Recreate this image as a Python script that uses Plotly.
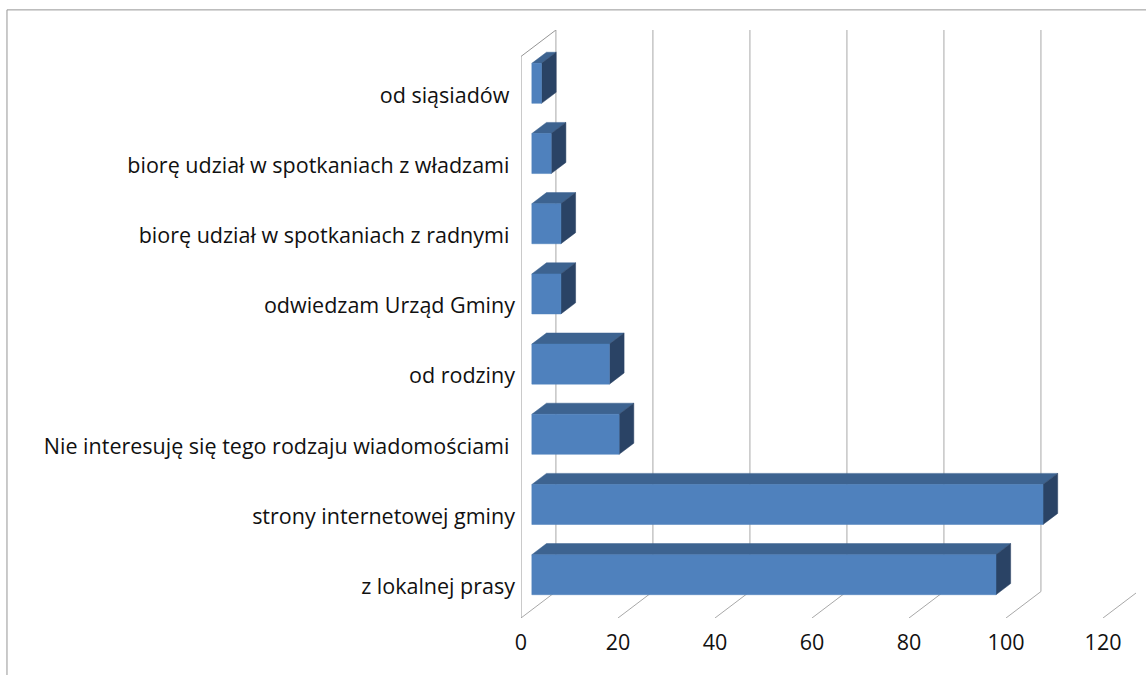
import plotly.graph_objects as go

categories = [
    "z lokalnej prasy",
    "strony internetowej gminy",
    "Nie interesuję się tego rodzaju wiadomościami\u00a0",
    "od rodziny",
    "odwiedzam Urząd Gminy",
    "biorę udział w spotkaniach z radnymi\u00a0",
    "biorę udział w spotkaniach z władzami\u00a0",
    "od siąsiadów\u00a0",
]
values = [95.7, 105.4, 18, 16, 6, 6, 4, 2]
x_ticks = [0, 20, 40, 60, 80, 100, 120]

# oblique projection, in data units
DX = 7.2
DY = 0.377
D0 = 0.31
D1 = 0.73
HALF = 0.285
X_MAX = 126.8
Y_LOW = -0.5
Y_HIGH = len(categories) - 0.5
LABEL_SHIFT = 0.05


def proj(v, c, d):
    return v + DX * d, c + DY * d


def poly(points):
    xs, ys = zip(*points)
    return list(xs) + [xs[0], None], list(ys) + [ys[0], None]


front_x, front_y, top_x, top_y, side_x, side_y = [], [], [], [], [], []
for i, v in enumerate(values):
    lo, hi = i - HALF, i + HALF
    a = poly([proj(0, lo, D0), proj(v, lo, D0), proj(v, hi, D0), proj(0, hi, D0)])
    b = poly([proj(0, hi, D0), proj(v, hi, D0), proj(v, hi, D1), proj(0, hi, D1)])
    c = poly([proj(v, lo, D0), proj(v, hi, D0), proj(v, hi, D1), proj(v, lo, D1)])
    front_x += a[0]; front_y += a[1]
    top_x += b[0]; top_y += b[1]
    side_x += c[0]; side_y += c[1]

back_x, back_y, floor_x, floor_y = [], [], [], []
for t in x_ticks:
    p = proj(t, Y_LOW, 1)
    q = proj(t, Y_HIGH, 1)
    back_x += [p[0], q[0], None]
    back_y += [p[1], q[1], None]
    r = proj(t, Y_LOW, 0)
    floor_x += [r[0], p[0], None]
    floor_y += [r[1], p[1], None]

wall = [proj(0, Y_LOW, 0), proj(0, Y_HIGH, 0), proj(0, Y_HIGH, 1)]
wall_x = [w[0] for w in wall]
wall_y = [w[1] for w in wall]

fig = go.Figure()


def line(x, y, color, width):
    fig.add_trace(go.Scatter(x=x, y=y, mode="lines", hoverinfo="skip",
                             line=dict(color=color, width=width),
                             cliponaxis=False))


def face(x, y, color):
    fig.add_trace(go.Scatter(x=x, y=y, mode="lines", fill="toself", fillcolor=color,
                             hoverinfo="skip", line=dict(color=color, width=0.5),
                             cliponaxis=False))


line(back_x, back_y, "#a8a8a8", 1)
line(floor_x, floor_y, "#a8a8a8", 1)
line(wall_x, wall_y, "#959595", 1)
face(top_x, top_y, "#3D6390")
face(side_x, side_y, "#2A4365")
face(front_x, front_y, "#4F81BD")

fig.update_layout(
    width=1146, height=675, autosize=False,
    margin=dict(l=521, r=10, t=30, b=57),
    paper_bgcolor="white", plot_bgcolor="white", showlegend=False,
    font=dict(family="Open Sans, Lato, sans-serif", color="#111111"),
    xaxis=dict(range=[0, X_MAX], tickvals=x_ticks, showgrid=False, zeroline=False,
               showline=False, ticks="", ticklabelstandoff=9, tickfont=dict(size=21.5)),
    yaxis=dict(range=[Y_LOW, Y_HIGH + DY],
               tickvals=[i - LABEL_SHIFT for i in range(len(categories))],
               ticktext=categories, showgrid=False, zeroline=False, showline=False,
               ticks="", ticklabelstandoff=5, tickfont=dict(size=21.5)),
    shapes=[
        dict(type="line", xref="paper", yref="paper", x0=-0.8358, x1=1.0163, y0=1.0342, y1=1.0342,
             line=dict(color="#959595", width=1)),
        dict(type="line", xref="paper", yref="paper", x0=-0.8358, x1=-0.8358, y0=1.0342, y1=-0.097,
             line=dict(color="#959595", width=1)),
    ],
)

fig.write_html("out.html", config={"displayModeBar": False},
               post_script="document.body.style.margin='0';")
